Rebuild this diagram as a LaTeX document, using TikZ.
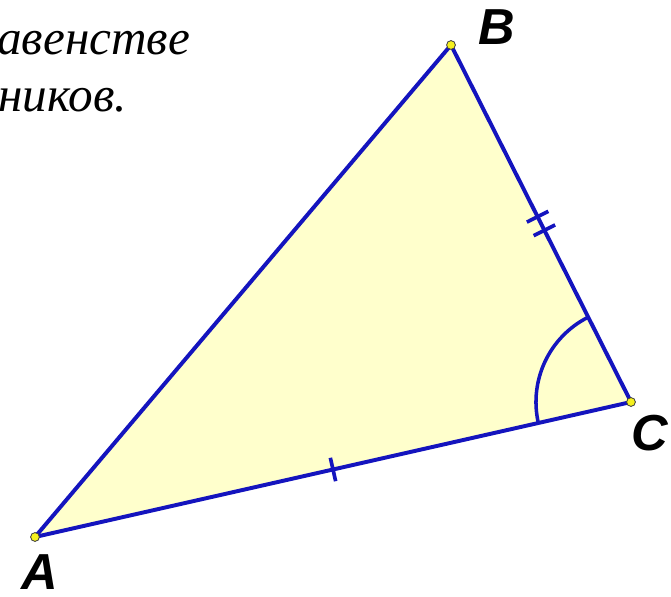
\documentclass[tikz,border=0pt]{standalone}
\usepackage{fontspec}
\setmainfont{Liberation Serif}
\newfontfamily\lblfont{Liberation Sans}
\usepackage{tikz}
\usetikzlibrary{positioning,calc,angles}
\definecolor{sideblue}{RGB}{20,20,190}
\definecolor{trifill}{RGB}{255,255,204}
\definecolor{ptyellow}{RGB}{245,240,30}

\begin{document}
\begin{tikzpicture}[x=0.025cm,y=-0.025cm,
  side/.style={draw=sideblue,line width=2.8pt,line cap=round},
  tickmark/.style={draw=sideblue,line width=2.6pt},
  pt/.style={circle,draw=black!75,line width=0.6pt,fill=ptyellow,inner sep=0pt,minimum size=0.22cm},
  lbl/.style={font=\lblfont\bfseries\itshape\fontsize{36}{40}\selectfont,inner sep=0pt},
  txt/.style={font=\itshape\fontsize{35}{42}\selectfont,inner sep=0pt,anchor=base west}]
  \useasboundingbox (0,0) rectangle (671,597);
  \coordinate (a) at (35,537);
  \coordinate (b) at (451,45);
  \coordinate (c) at (631,402);
  \fill[trifill] (a)--(b)--(c)--cycle;
  \path pic[draw=sideblue,line width=2.5pt,angle radius=2.375cm] {angle=b--c--a};
  \draw[side] (a)--(b); \draw[side] (b)--(c); \draw[side] (c)--(a);
  % equal sides
  \coordinate (mac) at ($(a)!0.5!(c)$);
  \coordinate (mbc1) at ($(b)!0.481!(c)$);
  \coordinate (mbc2) at ($(b)!0.519!(c)$);
  \draw[tickmark] ($(mac)!0.3cm!90:(c)$) -- ($(mac)!0.3cm!-90:(c)$);
  \draw[tickmark] ($(mbc1)!0.3cm!90:(c)$) -- ($(mbc1)!0.3cm!-90:(c)$);
  \draw[tickmark] ($(mbc2)!0.3cm!90:(c)$) -- ($(mbc2)!0.3cm!-90:(c)$);
  % vertices
  \node[pt] (pa) at (a) {};
  \node[pt] (pb) at (b) {};
  \node[pt] (pc) at (c) {};
  \node[lbl] (la) at (40,572) {A};
  \node[lbl] (lb) at (497,27) {B};
  \node[lbl] (lc) at (650,433) {C};
  \node[txt] (t1) at (-3,55) {авенстве};
  \node[txt] (t2) at (-2,112) {ников.};
\end{tikzpicture}
\end{document}
